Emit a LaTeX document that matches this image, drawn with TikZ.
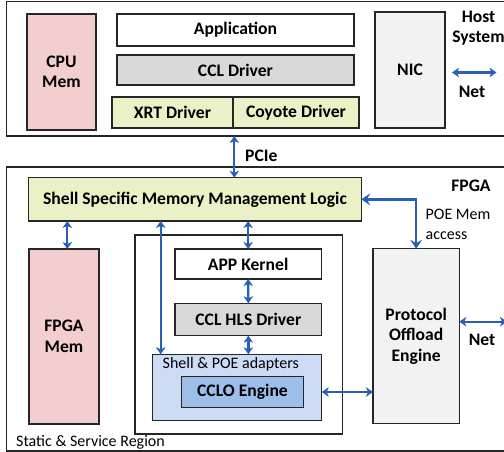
\documentclass[tikz,border=0pt]{standalone}
\usepackage{fontspec}
\setmainfont{Carlito}
\usetikzlibrary{arrows.meta,calc}
\definecolor{pinkfill}{RGB}{242,207,206}
\definecolor{greenfill}{RGB}{235,241,199}
\definecolor{grayfill}{RGB}{217,217,217}
\definecolor{lightgray}{RGB}{242,242,242}
\definecolor{adaptfill}{RGB}{204,220,244}
\definecolor{cclofill}{RGB}{158,190,234}
\definecolor{arrblue}{RGB}{40,96,184}
\definecolor{edge}{RGB}{38,38,38}
\begin{document}
\begin{tikzpicture}[x=1pt,y=-1pt,
  box/.style={draw=edge, line width=1.3pt, inner sep=0pt, outer sep=0pt, anchor=north west, align=center,
    font=\fontsize{17.6}{20.5}\selectfont\bfseries},
  lbl/.style={inner sep=0pt, font=\fontsize{17.6}{20.5}\selectfont\bfseries, align=center},
  rlbl/.style={inner sep=0pt, font=\fontsize{16}{19.5}\selectfont, align=left},
  arr/.style={draw=arrblue, line width=2.3pt, {Stealth[length=7pt,width=9.5pt,inset=2pt]}-{Stealth[length=7pt,width=9.5pt,inset=2pt]}},
  bigarr/.style={draw=arrblue, line width=2.6pt, {Stealth[length=9pt,width=12pt,inset=3.5pt]}-{Stealth[length=9pt,width=12pt,inset=3.5pt]}}
]
\useasboundingbox (0,0) rectangle (504,452);
% outer regions
\node[box, minimum width=503.3pt, minimum height=134.5pt] (host) at (6.7,1.5) {};
\node[box, minimum width=503.3pt, minimum height=284pt] (fpga) at (6.7,167) {};
% host system
\node[box, fill=pinkfill, minimum width=69pt, minimum height=116pt] (cpumem) at (27,14) {CPU\\Mem};
\node[box, fill=white, minimum width=237pt, minimum height=32pt] (app) at (117,14) {Application};
\node[box, fill=grayfill, minimum width=237pt, minimum height=30pt] (ccldrv) at (117,55) {CCL Driver};
\node[box, fill=greenfill, minimum width=121pt, minimum height=31pt] (xrt) at (112,97) {XRT Driver};
\node[box, fill=greenfill, minimum width=126pt, minimum height=31pt] (coyote) at (233,97) {Coyote Driver};
\node[box, fill=lightgray, minimum width=70pt, minimum height=116pt] (nic) at (375,12) {NIC};
\node[lbl] (hostlbl) at (478.5,28) {Host\\System};
\coordinate (net1l) at (452,72.5);
\coordinate (net1r) at (496.5,72.5);
\draw[arr] (net1l) -- (net1r);
\node[lbl] (net1lbl) at (472,91.5) {Net};
% FPGA
\node[box, fill=greenfill, minimum width=332.6pt, minimum height=43.3pt] (shell) at (28.7,177.7) {Shell Specific Memory Management Logic};
\node[lbl] (fpgalbl) at (471,186) {FPGA};
\node[lbl, anchor=west] (pcielbl) at (245,155.5) {PCIe};
\draw[arr] ([xshift=1.3pt]xrt.east |- host.south) -- ([xshift=1.3pt]xrt.east |- shell.north);
\node[box, fill=pinkfill, minimum width=70pt, minimum height=175pt] (fpgamem) at (29,249) {FPGA\\Mem};
\node[box, fill=white, minimum width=207.7pt, minimum height=199pt] (region) at (135,235) {};
\node[box, fill=white, minimum width=146.3pt, minimum height=30pt] (appk) at (175,249) {APP Kernel};
\node[box, fill=grayfill, minimum width=146.7pt, minimum height=32.4pt] (hls) at (175,303.3) {CCL HLS Driver};
\node[box, fill=adaptfill, minimum width=169pt, minimum height=66pt] (adapters) at (152.7,354.3) {};
\node[rlbl, anchor=west] (adaptlbl) at (162.5,364.5) {Shell \& POE adapters};
\node[box, fill=cclofill, minimum width=121.6pt, minimum height=30.6pt] (cclo) at (181.7,376.7) {CCLO Engine};
\node[box, fill=lightgray, minimum width=86.3pt, minimum height=175pt] (poe) at (373,248.7) {Protocol\\Offload\\Engine};
\node[rlbl, anchor=north west] (poememlbl) at (425.5,209) {POE Mem\\access};
\node[lbl] (net2lbl) at (482,339.5) {Net};
\node[rlbl, anchor=west] (staticlbl) at (16,442) {Static \& Service Region};
% connectors
\draw[arr] ([xshift=3.3pt]fpgamem.north |- shell.south) -- ([xshift=3.3pt]fpgamem.north);
\draw[arr] (appk.north |- shell.south) -- (appk.north);
\draw[arr] (appk.south) -- (hls.north);
\draw[arr] (hls.south) -- (hls.south |- adapters.north);
\draw[arr] ([xshift=8pt]adapters.north west |- shell.south) -- ([xshift=8pt]adapters.north west);
\draw[arr] (cclo.east -| adapters.east) -- (cclo.east -| poe.west);
\draw[bigarr] (shell.east) -| (poe.north);
\coordinate (net2r) at (507,321.7);
\draw[arr] ([yshift=14.5pt]poe.east) -- (net2r);
\end{tikzpicture}
\end{document}
